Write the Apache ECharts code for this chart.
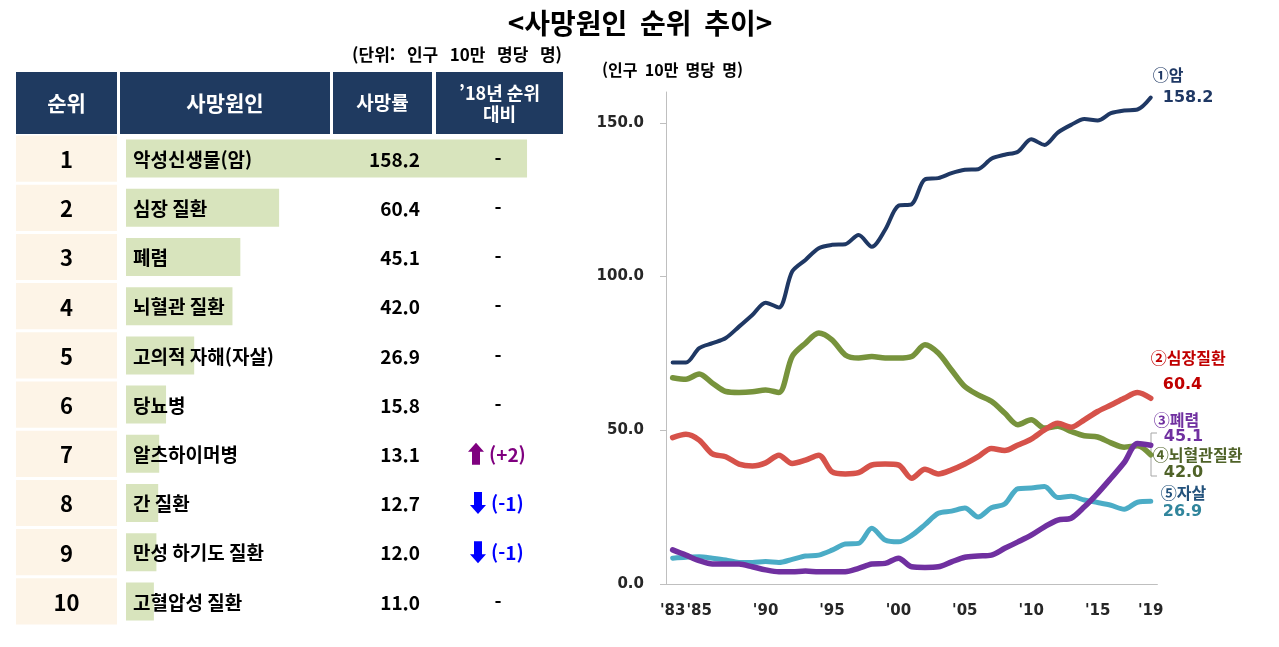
<!DOCTYPE html>
<html lang="ko">
<head>
<meta charset="UTF-8">
<title>사망원인 순위 추이</title>
<style>
  html, body { margin: 0; padding: 0; background: #fff; }
  #main { width: 1279px; height: 647px; }
</style>
</head>
<body>
<div id="main"></div>
<script src="https://cdn.jsdelivr.net/npm/echarts@6/dist/echarts.min.js"></script>
<script>
// ---- table data (2019) ----
var ranks = [1, 2, 3, 4, 5, 6, 7, 8, 9, 10];
var causes = ['악성신생물(암)', '심장 질환', '폐렴', '뇌혈관 질환', '고의적 자해(자살)',
              '당뇨병', '알츠하이머병', '간 질환', '만성 하기도 질환', '고혈압성 질환'];
var rates = [158.2, 60.4, 45.1, 42.0, 26.9, 15.8, 13.1, 12.7, 12.0, 11.0];
var changes = [0, 0, 0, 0, 0, 0, 2, -1, -1, 0];   // rank change vs 2018

// ---- trend data 1983..2019 ----
var years = ["'83", "'84", "'85", "'86", "'87", "'88", "'89", "'90", "'91", "'92",
             "'93", "'94", "'95", "'96", "'97", "'98", "'99", "'00", "'01", "'02",
             "'03", "'04", "'05", "'06", "'07", "'08", "'09", "'10", "'11", "'12",
             "'13", "'14", "'15", "'16", "'17", "'18", "'19"];
var shownYears = ["'83", "'85", "'90", "'95", "'00", "'05", "'10", "'15", "'19"];
var cancer = [72.0, 72.0, 76.7, 78.3, 80.0, 83.7, 87.5, 91.5, 89.9, 101.6,
              105.4, 109.2, 110.3, 110.5, 113.5, 109.7, 115.2, 123.0, 123.5, 131.6,
              132.0, 133.6, 134.7, 134.9, 138.3, 139.6, 140.6, 144.6, 142.8, 146.8,
              149.3, 151.2, 150.7, 153.1, 154.0, 154.3, 158.2];
var heart = [47.6, 48.7, 46.8, 42.3, 41.4, 39.0, 38.4, 39.4, 41.9, 39.2,
             40.3, 41.9, 36.5, 35.8, 36.2, 38.7, 39.0, 38.7, 34.4, 37.3,
             35.8, 37.1, 39.0, 41.4, 44.1, 43.4, 45.2, 47.1, 50.1, 52.3,
             51.0, 53.4, 56.1, 58.2, 60.4, 62.3, 60.4];
var pneumonia = [11.1, 9.4, 7.6, 6.5, 6.5, 6.5, 5.6, 4.6, 4.0, 4.0,
                 4.2, 4.0, 4.0, 4.0, 5.1, 6.5, 6.7, 8.4, 5.6, 5.4,
                 5.6, 7.2, 8.7, 9.1, 9.4, 11.6, 13.7, 15.9, 18.6, 20.8,
                 21.4, 25.1, 29.5, 34.4, 39.5, 45.7, 45.1];
var cerebro = [67.1, 66.6, 68.3, 65.3, 62.6, 62.3, 62.5, 63.1, 62.3, 74.0,
               78.3, 81.6, 79.4, 74.5, 73.5, 74.0, 73.5, 73.5, 74.0, 77.8,
               75.1, 69.6, 64.2, 61.5, 59.4, 55.6, 51.8, 53.4, 50.7, 51.3,
               49.6, 48.2, 47.8, 45.9, 44.5, 45.0, 42.0];
var suicide = [8.4, 8.7, 8.9, 8.4, 7.8, 7.0, 7.0, 7.3, 7.0, 8.0,
               9.1, 9.4, 11.0, 13.0, 13.2, 18.1, 14.3, 13.7, 15.8, 19.3,
               23.0, 23.7, 24.7, 21.8, 24.8, 26.0, 31.0, 31.2, 31.7, 28.1,
               28.5, 27.3, 26.5, 25.6, 24.3, 26.6, 26.9];
var yTicks = [0, 50, 100, 150];

var KR = 'Noto Sans CJK KR';
var NUM = 'DejaVu Sans';

var chart = echarts.init(document.getElementById('main'));

function kr(size, color) {
    return { fontSize: size, fontWeight: 'bold', fontFamily: KR, fill: color || '#000' };
}

// one table row: rank cell, name, rate, change mark
function renderRow(params, api) {
    var i = params.dataIndex;
    var pt = api.coord([0, i]);
    var y = pt[1];
    var h = api.size([0, 1])[1] - 3;
    var kids = [
        { type: 'rect', shape: { x: 16, y: y - h / 2, width: 101, height: h }, style: { fill: '#fdf4e7' } },
        { type: 'text', style: Object.assign({ text: String(ranks[i]), x: 66.5, y: y + 1, align: 'center', verticalAlign: 'middle' }, kr(22)) },
        { type: 'text', style: Object.assign({ text: causes[i], x: pt[0] + 7, y: y + 1, verticalAlign: 'middle' }, kr(19)) },
        { type: 'text', style: Object.assign({ text: rates[i].toFixed(1), x: 420, y: y + 1, align: 'right', verticalAlign: 'middle' }, kr(19)) }
    ];
    var c = changes[i];
    if (c === 0) {
        kids.push({ type: 'text', style: Object.assign({ text: '-', x: 498, y: y, align: 'center', verticalAlign: 'middle' }, kr(19)) });
    } else if (c > 0) {
        var ax = 476;
        kids.push({ type: 'polygon', shape: { points: [[ax, y - 11], [ax + 8, y - 2], [ax + 4, y - 2], [ax + 4, y + 11], [ax - 4, y + 11], [ax - 4, y - 2], [ax - 8, y - 2]] }, style: { fill: '#7f007f' } });
        kids.push({ type: 'text', style: Object.assign({ text: '(+' + c + ')', x: 489, y: y + 1, verticalAlign: 'middle' }, kr(19, '#7f007f')) });
    } else {
        var bx = 478;
        kids.push({ type: 'polygon', shape: { points: [[bx, y + 11], [bx + 8, y + 2], [bx + 4, y + 2], [bx + 4, y - 11], [bx - 4, y - 11], [bx - 4, y + 2], [bx - 8, y + 2]] }, style: { fill: '#0000ff' } });
        kids.push({ type: 'text', style: Object.assign({ text: '(' + c + ')', x: 491, y: y + 1, verticalAlign: 'middle' }, kr(19, '#0000ff')) });
    }
    return { type: 'group', children: kids };
}

function lineSeries(name, data, color, width, lab) {
    return {
        name: name,
        type: 'line',
        xAxisIndex: 1,
        yAxisIndex: 1,
        data: data,
        smooth: 0.3,
        symbol: 'none',
        lineStyle: { color: color, width: width, cap: 'round', join: 'round' },
        itemStyle: { color: color },
        endLabel: {
            show: true,
            distance: 0,
            offset: lab.offset,
            lineHeight: lab.lh,
            formatter: function (p) {
                return '{n|' + name + '}\n{v|' + p.value.toFixed(1) + '}';
            },
            rich: {
                n: { fontSize: 16, fontWeight: 'bold', fontFamily: KR, color: lab.nc, lineHeight: lab.lh },
                v: { fontSize: 16, fontWeight: 'bold', fontFamily: NUM, color: lab.vc, lineHeight: lab.lh, padding: [0, 0, 0, lab.indent] }
            }
        }
    };
}

var header = [
    { x: 16, w: 101, lines: ['순위'], size: 21 },
    { x: 120, w: 210, lines: ['사망원인'], size: 21 },
    { x: 333, w: 99, lines: ['사망률'], size: 19 },
    { x: 436, w: 127, lines: ['’18년 순위', '대비'], size: 18 }
];
var headerEls = [];
header.forEach(function (hd) {
    headerEls.push({ type: 'rect', shape: { x: hd.x, y: 72, width: hd.w, height: 62 }, style: { fill: '#1f3a60' } });
    if (hd.lines.length === 1) {
        headerEls.push({ type: 'text', style: Object.assign({ text: hd.lines[0], x: hd.x + hd.w / 2, y: 103, align: 'center', verticalAlign: 'middle' }, kr(hd.size, '#fff')) });
    } else {
        headerEls.push({ type: 'text', style: Object.assign({ text: hd.lines[0], x: hd.x + hd.w / 2, y: 93, align: 'center', verticalAlign: 'middle' }, kr(hd.size, '#fff')) });
        headerEls.push({ type: 'text', style: Object.assign({ text: hd.lines[1], x: hd.x + hd.w / 2, y: 114, align: 'center', verticalAlign: 'middle' }, kr(hd.size, '#fff')) });
    }
});

var option = {
    animation: false,
    backgroundColor: '#fff',
    grid: [
        { left: 126, top: 134, width: 405.6, height: 492 },
        { left: 666, top: 92, width: 491.4, height: 492 }
    ],
    xAxis: [
        { gridIndex: 0, type: 'value', min: 0, max: 160, show: false },
        {
            gridIndex: 1,
            type: 'category',
            data: years,
            boundaryGap: true,
            axisLine: { lineStyle: { color: '#bfbfbf', width: 1 } },
            axisTick: { show: false },
            axisLabel: {
                interval: function (idx, val) { return shownYears.indexOf(val) >= 0; },
                margin: 20,
                fontSize: 15,
                fontWeight: 'bold',
                fontFamily: NUM,
                color: '#262626'
            },
            splitLine: { show: false }
        }
    ],
    yAxis: [
        { gridIndex: 0, type: 'category', data: causes, inverse: true, show: false },
        {
            gridIndex: 1,
            type: 'value',
            min: 0,
            max: 160,
            interval: 50,
            axisLine: { show: true, lineStyle: { color: '#bfbfbf', width: 1 } },
            axisTick: { show: true, length: 6, customValues: yTicks, lineStyle: { color: '#bfbfbf' } },
            axisLabel: {
                customValues: yTicks,
                margin: 22,
                fontSize: 15,
                fontWeight: 'bold',
                fontFamily: NUM,
                color: '#262626',
                formatter: function (v) { return v.toFixed(1); }
            },
            splitLine: { show: false }
        }
    ],
    graphic: [
        { type: 'text', style: Object.assign({ text: '<사망원인  순위  추이>', x: 640, y: 23, align: 'center', verticalAlign: 'middle' }, kr(28)) },
        { type: 'text', style: Object.assign({ text: '(단위:   인구   10만   명당   명)', x: 562, y: 55, align: 'right', verticalAlign: 'middle' }, kr(17)) },
        { type: 'text', style: Object.assign({ text: '(인구  10만  명당  명)', x: 602, y: 70, verticalAlign: 'middle' }, kr(16)) },
        { type: 'polyline', shape: { points: [[1157, 433], [1151, 433], [1151, 476], [1157, 476]] }, style: { stroke: '#a6a6a6', lineWidth: 1, fill: null } }
    ].concat(headerEls),
    series: [
        {
            type: 'bar',
            xAxisIndex: 0,
            yAxisIndex: 0,
            data: rates,
            barWidth: 38,
            itemStyle: { color: '#d8e4bd' },
            silent: true
        },
        {
            type: 'custom',
            xAxisIndex: 0,
            yAxisIndex: 0,
            data: rates.map(function (v, i) { return [0, i]; }),
            encode: { x: 0, y: 1 },
            renderItem: renderRow,
            clip: false,
            z: 3,
            silent: true
        },
        lineSeries('④뇌혈관질환', cerebro, '#77933c', 5.5, { offset: [2, 9], lh: 17, indent: 11, nc: '#4f6228', vc: '#4f6228' }),
        lineSeries('②심장질환', heart, '#d6524a', 5.5, { offset: [0, -27], lh: 27, indent: 12, nc: '#c00000', vc: '#c00000' }),
        lineSeries('⑤자살', suicide, '#4bacc6', 5, { offset: [10, 1], lh: 19, indent: 2, nc: '#23527c', vc: '#31859c' }),
        lineSeries('③폐렴', pneumonia, '#7030a0', 5.5, { offset: [3, -17], lh: 17, indent: 10, nc: '#7030a0', vc: '#7030a0' }),
        lineSeries('①암', cancer, '#1f3864', 4, { offset: [2, -11], lh: 23, indent: 10, nc: '#1f3864', vc: '#1f3864' })
    ]
};

chart.setOption(option);
window.onresize = function () { chart.resize(); };
</script>
</body>
</html>
